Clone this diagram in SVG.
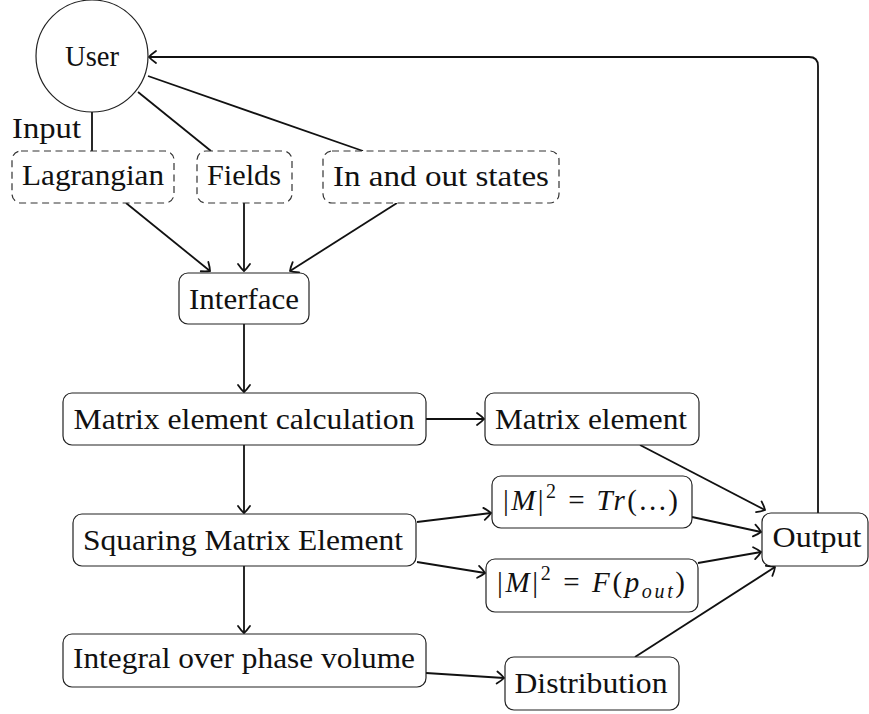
<svg xmlns="http://www.w3.org/2000/svg" width="869" height="714" viewBox="0 0 869 714">
<style>
text{font-family:"Liberation Serif","DejaVu Serif",serif;font-size:29px;fill:#111;}
.c{text-anchor:middle;}
.box{fill:#fff;stroke:#222;stroke-width:1.2;}
.dash{fill:#fff;stroke:#333;stroke-width:1.2;stroke-dasharray:7 4.5;}
.ln{fill:none;stroke:#111;stroke-width:1.8;}
.ar{fill:none;stroke:#111;stroke-width:1.8;marker-end:url(#arr);}
.i{font-style:italic;}
</style>
<defs>
<marker id="arr" markerUnits="userSpaceOnUse" markerWidth="20" markerHeight="20" viewBox="-10 -10 20 20" refX="0" refY="0" orient="auto">
<path d="M -7 -6 Q -2 -2.5 0 0 Q -2 2.5 -7 6" fill="none" stroke="#111" stroke-width="1.8" stroke-linecap="round"/>
</marker>
</defs>
<g id="connectors">
<line class="ln" x1="92" y1="112" x2="92" y2="151"/>
<line class="ln" x1="138" y1="92" x2="211" y2="151"/>
<line class="ln" x1="148" y1="76" x2="363" y2="151"/>
<line class="ar" x1="126" y1="203" x2="210" y2="271"/>
<line class="ar" x1="244" y1="203" x2="244" y2="271"/>
<line class="ar" x1="397" y1="203" x2="290" y2="271"/>
<line class="ar" x1="244" y1="324" x2="244" y2="392"/>
<line class="ar" x1="426" y1="419" x2="484" y2="419"/>
<line class="ar" x1="244" y1="445" x2="244" y2="513"/>
<line class="ar" x1="244" y1="566" x2="244" y2="633"/>
<line class="ar" x1="417" y1="522" x2="491" y2="513"/>
<line class="ar" x1="417" y1="562" x2="485" y2="573"/>
<line class="ar" x1="426" y1="673" x2="504" y2="678"/>
<line class="ar" x1="640" y1="445" x2="765" y2="510"/>
<line class="ar" x1="692" y1="517" x2="761" y2="532"/>
<line class="ar" x1="698" y1="563" x2="761" y2="552"/>
<line class="ar" x1="635" y1="657" x2="775" y2="567"/>
<path class="ar" d="M 818 513 V 66 Q 818 57 809 57 H 149"/>
</g>
<g id="user">
<circle cx="92" cy="56" r="56" fill="#fff" stroke="#222" stroke-width="1.2"/>
<text class="c" x="92" y="66" textLength="54" lengthAdjust="spacingAndGlyphs">User</text>
</g>
<g id="input-label">
<text x="12" y="138" textLength="69" lengthAdjust="spacingAndGlyphs">Input</text>
</g>
<g id="lagrangian">
<rect class="dash" x="12" y="151" width="162" height="52" rx="9"/>
<text class="c" x="93" y="185" textLength="142" lengthAdjust="spacingAndGlyphs">Lagrangian</text>
</g>
<g id="fields">
<rect class="dash" x="197" y="151" width="95" height="52" rx="9"/>
<text class="c" x="244" y="185" textLength="74" lengthAdjust="spacingAndGlyphs">Fields</text>
</g>
<g id="inout">
<rect class="dash" x="323" y="151" width="236" height="52" rx="9"/>
<text class="c" x="441" y="186" textLength="216" lengthAdjust="spacingAndGlyphs">In and out states</text>
</g>
<g id="interface">
<rect class="box" x="179" y="273" width="130" height="51" rx="9"/>
<text class="c" x="244" y="309" textLength="110" lengthAdjust="spacingAndGlyphs">Interface</text>
</g>
<g id="mecalc">
<rect class="box" x="63" y="393" width="363" height="52" rx="9"/>
<text class="c" x="244" y="429" textLength="341" lengthAdjust="spacingAndGlyphs">Matrix element calculation</text>
</g>
<g id="me">
<rect class="box" x="485" y="393" width="214" height="52" rx="9"/>
<text class="c" x="591" y="429" textLength="192" lengthAdjust="spacingAndGlyphs">Matrix element</text>
</g>
<g id="squaring">
<rect class="box" x="73" y="514" width="343" height="52" rx="9"/>
<text class="c" x="243" y="550" textLength="320" lengthAdjust="spacingAndGlyphs">Squaring Matrix Element</text>
</g>
<g id="tr">
<rect class="box" x="492" y="476" width="200" height="52" rx="9"/>
<text x="503" y="510" textLength="175" lengthAdjust="spacing">|<tspan class="i">M</tspan>|<tspan font-size="20" dy="-12">2</tspan><tspan dy="12"> = </tspan><tspan class="i">Tr</tspan>(...)</text>
</g>
<g id="fp">
<rect class="box" x="486" y="559" width="212" height="53" rx="9"/>
<text x="497" y="592" textLength="188" lengthAdjust="spacing">|<tspan class="i">M</tspan>|<tspan font-size="20" dy="-12">2</tspan><tspan dy="12"> = </tspan><tspan class="i">F</tspan>(<tspan class="i">p</tspan><tspan class="i" font-size="20" dy="6">out</tspan><tspan dy="-6">)</tspan></text>
</g>
<g id="output">
<rect class="box" x="762" y="513" width="106" height="53" rx="9"/>
<text class="c" x="817" y="547" textLength="89" lengthAdjust="spacingAndGlyphs">Output</text>
</g>
<g id="integral">
<rect class="box" x="63" y="634" width="363" height="53" rx="9"/>
<text class="c" x="244" y="668" textLength="342" lengthAdjust="spacingAndGlyphs">Integral over phase volume</text>
</g>
<g id="distribution">
<rect class="box" x="505" y="657" width="174" height="53" rx="9"/>
<text class="c" x="591" y="693" textLength="153" lengthAdjust="spacingAndGlyphs">Distribution</text>
</g>
</svg>
